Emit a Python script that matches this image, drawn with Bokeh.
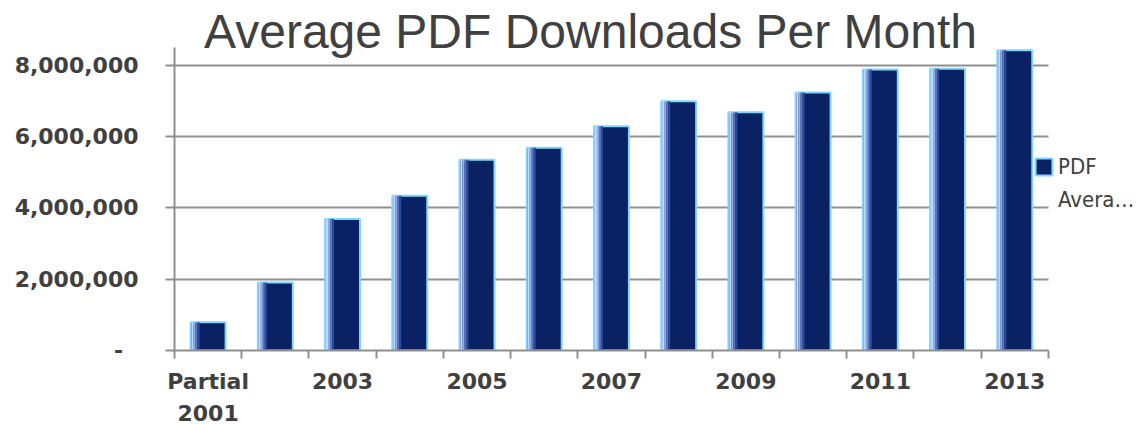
from bokeh.plotting import figure
from bokeh.models import (ColumnDataSource, Range1d, FixedTicker, NumeralTickFormatter,
                          Label, Legend, LegendItem)
from bokeh.transform import dodge
from bokeh.embed import file_html
from bokeh.resources import INLINE

# ---- data ----
categories = ["Partial 2001", "2002", "2003", "2004", "2005", "2006", "2007",
              "2008", "2009", "2010", "2011", "2012", "2013"]
tick_labels = ["Partial\n2001", "", "2003", "", "2005", "", "2007",
               "", "2009", "", "2011", "", "2013"]
downloads = [790000, 1910000, 3690000, 4340000, 5350000, 5690000, 6290000,
             6990000, 6680000, 7240000, 7880000, 7900000, 8420000]
y_ticks = [0, 2000000, 4000000, 6000000, 8000000]
y_axis_max = 8500000
title_text = "Average PDF Downloads Per Month"
legend_lines = ["PDF", "Avera\u2026"]

n = len(categories)
pos = [i + 0.5 for i in range(n)]
source = ColumnDataSource(dict(x=pos, cat=categories, v=downloads))

TXT = "#404040"
GRID = "#8f8f8f"

# frame extends to the top and right edge of the canvas so that the title and
# legend (drawn inside it) are not clipped; axis/grid extents are bounded.
p = figure(frame_width=970, frame_height=350, output_backend="svg", toolbar_location=None,
           x_range=Range1d(0, 14.43), y_range=Range1d(0, 9818000),
           min_border_left=174, min_border_right=0, min_border_top=0,
           min_border_bottom=0)
p.outline_line_color = None
p.background_fill_color = "white"
p.border_fill_color = "white"

# bars
bars = p.vbar(x="x", top="v", width=0.52, source=source,
              fill_color="#0a2263", line_color="#80d6fc", line_width=2)
# bevel highlight on left side of each bar
strip_colors = ["#c9d9fb", "#93ade8", "#5877c6", "#2b4a97"]
strip_offsets = [-0.2305, -0.2008, -0.1711, -0.1413]
for c, off in zip(strip_colors, strip_offsets):
    p.vbar(x=dodge("x", off), top="v", width=0.0297, source=source,
           fill_color=c, line_color=None)

# y axis
p.yaxis.bounds = (0, y_axis_max)
p.yaxis.ticker = FixedTicker(ticks=y_ticks, minor_ticks=[])
p.yaxis.formatter = NumeralTickFormatter(format="0,0")
p.yaxis.major_label_overrides = {0: "-\u2007"}
p.yaxis.axis_line_color = GRID
p.yaxis.axis_line_width = 2
p.yaxis.major_tick_line_color = GRID
p.yaxis.major_tick_line_width = 2
p.yaxis.major_tick_out = 9
p.yaxis.major_tick_in = 0
p.yaxis.minor_tick_line_color = None
p.yaxis.major_label_standoff = 27
p.yaxis.major_label_text_font = "DejaVu Sans"
p.yaxis.major_label_text_font_style = "bold"
p.yaxis.major_label_text_font_size = "22px"
p.yaxis.major_label_text_color = TXT

# x axis: labels at centres, ticks at category boundaries
p.xaxis.bounds = (0, n)
p.xaxis.ticker = FixedTicker(ticks=pos, minor_ticks=list(range(n + 1)))
p.xaxis.major_label_overrides = {pv: lab for pv, lab in zip(pos, tick_labels)}
p.xaxis.axis_line_color = GRID
p.xaxis.axis_line_width = 2
p.xaxis.major_tick_line_color = None
p.xaxis.major_tick_out = 0
p.xaxis.major_tick_in = 0
p.xaxis.minor_tick_line_color = GRID
p.xaxis.minor_tick_line_width = 2
p.xaxis.minor_tick_out = 8
p.xaxis.minor_tick_in = 0
p.xaxis.major_label_standoff = 10
p.xaxis.major_label_text_font = "DejaVu Sans"
p.xaxis.major_label_text_font_style = "bold"
p.xaxis.major_label_text_font_size = "22px"
p.xaxis.major_label_text_color = TXT
p.xaxis.major_label_text_line_height = 1.3

# grid
p.xgrid.grid_line_color = None
p.ygrid.ticker = FixedTicker(ticks=y_ticks)
p.ygrid.cross_bounds = (0, n)
p.ygrid.grid_line_color = GRID
p.ygrid.grid_line_width = 2

# title
p.add_layout(Label(x=416, y=319, x_units="screen", y_units="screen", text=title_text,
                   text_align="center", text_baseline="alphabetic",
                   text_font="Liberation Sans", text_font_size="48px", text_color=TXT))

# legend
legend = Legend(items=[LegendItem(label=legend_lines[0], renderers=[bars]),
                       LegendItem(label=legend_lines[1], renderers=[])],
                location=(859, 138), orientation="vertical",
                glyph_width=21, glyph_height=21, label_standoff=4, spacing=8,
                padding=0, margin=0, border_line_color=None, background_fill_alpha=0,
                label_text_font="DejaVu Sans Condensed, Roboto Condensed, Roboto",
                label_text_font_size="22px", label_text_color=TXT)
p.add_layout(legend, "center")

open("out.html", "w").write(file_html(p, INLINE))
